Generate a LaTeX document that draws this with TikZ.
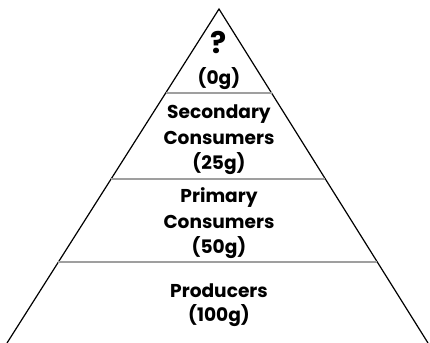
\documentclass[tikz,border=0pt]{standalone}
\usepackage{fontspec}
\setmainfont{Poppins}
\usetikzlibrary{calc}

\begin{document}
\begin{tikzpicture}[x=0.5pt,y=-0.5pt,
    label/.style={anchor=base, font=\bfseries\fontsize{9.3}{11}\selectfont, inner sep=0pt},
    divider/.style={gray!75, line width=0.8pt}]
    \useasboundingbox (0,0) rectangle (430,343);

    \coordinate (apex) at (219,9);
    \coordinate (left) at (7,343);
    \coordinate (right) at (428,343);
    \draw[line width=0.6pt] (left) -- (apex) -- (right);

    \draw[divider] ($(apex)!0.2515!(left)$) -- ($(apex)!0.2515!(right)$);
    \draw[divider] ($(apex)!0.509!(left)$) -- ($(apex)!0.509!(right)$);
    \draw[divider] ($(apex)!0.7575!(left)$) -- ($(apex)!0.7575!(right)$);

    \node[label, font=\bfseries\fontsize{15}{15}\selectfont] (quest) at (219,53) {?};
    \node[label] (zero) at (219,84) {(0g)};

    \node[label] (sec) at (219,118) {Secondary};
    \node[label] (seccons) at (219,144) {Consumers};
    \node[label] (secmass) at (219,169) {(25g)};

    \node[label] (prim) at (219,202) {Primary};
    \node[label] (primcons) at (219,228) {Consumers};
    \node[label] (primmass) at (219,253) {(50g)};

    \node[label] (prod) at (219,297) {Producers};
    \node[label] (prodmass) at (219,321) {(100g)};
\end{tikzpicture}
\end{document}
